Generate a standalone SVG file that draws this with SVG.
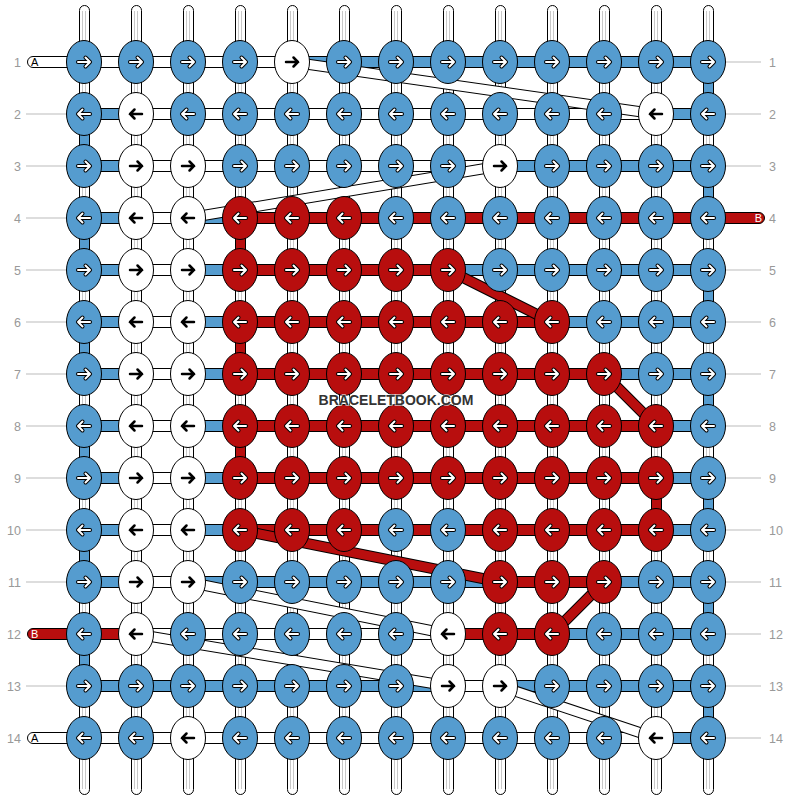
<svg xmlns="http://www.w3.org/2000/svg" xmlns:xlink="http://www.w3.org/1999/xlink" width="792" height="800" viewBox="0 0 792 800">
<style>
.wp{fill:#fff;stroke:#000;stroke-width:1}
.gl{fill:none;stroke:#c8c8c8;stroke-width:1}
.sw{fill:#fff;stroke:#000;stroke-width:1}
.sb{fill:#559ccf;stroke:#000;stroke-width:1}
.sr{fill:#b80e0e;stroke:#000;stroke-width:1}
.bo{fill:none;stroke:#000;stroke-width:11}
.bw{fill:none;stroke:#fff;stroke-width:9}
.brd{fill:none;stroke:#b80e0e;stroke-width:9}
.ao{fill:none;stroke:#000;stroke-width:4;stroke-linecap:round;stroke-linejoin:round}
.ai{fill:none;stroke:#fff;stroke-width:2;stroke-linecap:round;stroke-linejoin:round}
.ak{fill:none;stroke:#000;stroke-width:2.5;stroke-linecap:round;stroke-linejoin:miter}
.num{font-family:"Liberation Sans",Arial,sans-serif;font-size:12.5px;fill:#999}
.gline{stroke:#bbb;stroke-width:1;fill:none}
.end{font-family:"Liberation Sans",Arial,sans-serif;font-size:11px}
.wm{font-family:"Liberation Sans",Arial,sans-serif;font-size:14px;font-weight:bold;fill:#333;stroke:#fff;stroke-width:2;paint-order:stroke;stroke-opacity:0.6}
</style>
<defs>
<path id="pR" d="M-6,0H6M1.5,-4.5L6,0L1.5,4.5"/>
<path id="pL" d="M6,0H-6M-1.5,-4.5L-6,0L-1.5,4.5"/>
<g id="BR"><ellipse rx="17.5" ry="21.5" fill="#559ccf" stroke="#000"/><use href="#pR" class="ao"/><use href="#pR" class="ai"/></g>
<g id="BL"><ellipse rx="17.5" ry="21.5" fill="#559ccf" stroke="#000"/><use href="#pL" class="ao"/><use href="#pL" class="ai"/></g>
<g id="RR"><ellipse rx="17.5" ry="21.5" fill="#b80e0e" stroke="#000"/><use href="#pR" class="ao"/><use href="#pR" class="ai"/></g>
<g id="RL"><ellipse rx="17.5" ry="21.5" fill="#b80e0e" stroke="#000"/><use href="#pL" class="ao"/><use href="#pL" class="ai"/></g>
<g id="WR"><ellipse rx="17.5" ry="21.5" fill="#fff" stroke="#000"/><use href="#pR" class="ak"/></g>
<g id="WL"><ellipse rx="17.5" ry="21.5" fill="#fff" stroke="#000"/><use href="#pL" class="ak"/></g>
</defs>
<rect width="792" height="800" fill="#fff"/>
<g id="labels">
<path class="gline" d="M26,114H66M26,166H66M26,218H66M26,270H66M26,322H66M26,374H66M26,426H66M26,478H66M26,530H66M26,582H66M26,686H66"/>
<path class="gline" d="M726,62H761M726,114H761M726,166H761M726,270H761M726,322H761M726,374H761M726,426H761M726,478H761M726,530H761M726,582H761M726,634H761M726,686H761M726,738H761"/>
<g class="num" text-anchor="end">
<text x="21" y="66.5">1</text><text x="21" y="118.5">2</text><text x="21" y="170.5">3</text><text x="21" y="222.5">4</text><text x="21" y="274.5">5</text><text x="21" y="326.5">6</text><text x="21" y="378.5">7</text><text x="21" y="430.5">8</text><text x="21" y="482.5">9</text><text x="21" y="534.5">10</text><text x="21" y="586.5">11</text><text x="21" y="638.5">12</text><text x="21" y="690.5">13</text><text x="21" y="742.5">14</text>
</g>
<g class="num">
<text x="769" y="66.5">1</text><text x="769" y="118.5">2</text><text x="769" y="170.5">3</text><text x="769" y="222.5">4</text><text x="769" y="274.5">5</text><text x="769" y="326.5">6</text><text x="769" y="378.5">7</text><text x="769" y="430.5">8</text><text x="769" y="482.5">9</text><text x="769" y="534.5">10</text><text x="769" y="586.5">11</text><text x="769" y="638.5">12</text><text x="769" y="690.5">13</text><text x="769" y="742.5">14</text>
</g>
</g>
<g id="connectors">
<g id="warps">
<rect class="wp" x="79.5" y="5.5" width="10" height="789" rx="5"/>
<rect class="wp" x="131.5" y="5.5" width="10" height="789" rx="5"/>
<rect class="wp" x="183.5" y="5.5" width="10" height="789" rx="5"/>
<rect class="wp" x="235.5" y="5.5" width="10" height="789" rx="5"/>
<rect class="wp" x="287.5" y="5.5" width="10" height="789" rx="5"/>
<rect class="wp" x="339.5" y="5.5" width="10" height="789" rx="5"/>
<rect class="wp" x="391.5" y="5.5" width="10" height="789" rx="5"/>
<rect class="wp" x="443.5" y="5.5" width="10" height="789" rx="5"/>
<rect class="wp" x="495.5" y="5.5" width="10" height="789" rx="5"/>
<rect class="wp" x="547.5" y="5.5" width="10" height="789" rx="5"/>
<rect class="wp" x="599.5" y="5.5" width="10" height="789" rx="5"/>
<rect class="wp" x="651.5" y="5.5" width="10" height="789" rx="5"/>
<rect class="wp" x="703.5" y="5.5" width="10" height="789" rx="5"/>
<path class="gl" d="M82.5,11V789M85.5,11V789M134.5,11V789M137.5,11V789M186.5,11V789M189.5,11V789M238.5,11V789M241.5,11V789M290.5,11V789M293.5,11V789M342.5,11V789M345.5,11V789M394.5,11V789M397.5,11V789M446.5,11V789M449.5,11V789M498.5,11V789M501.5,11V789M550.5,11V789M553.5,11V789M602.5,11V789M605.5,11V789M654.5,11V789M657.5,11V789M706.5,11V789M709.5,11V789"/>
</g>
<g id="turns">
<path class="sb" d="M703.5,62V114h10V62zM703.5,166V218h10V166zM703.5,270V322h10V270zM703.5,374V426h10V374zM703.5,478V530h10V478zM703.5,582V634h10V582zM703.5,686V738h10V686zM79.5,114V166h10V114zM79.5,218V270h10V218zM79.5,322V374h10V322zM79.5,426V478h10V426zM79.5,530V582h10V530zM79.5,634V686h10V634z"/>
<path class="sr" d="M235.5,218V270h10V218zM235.5,322V374h10V322zM235.5,426V478h10V426zM651.5,478V530h10V478z"/>
</g>
<g id="wefts">
<rect class="sw" x="27.5" y="56.5" width="62" height="11" rx="5.5"/>
<rect class="sw" x="27.5" y="732.5" width="62" height="11" rx="5.5"/>
<rect class="sr" x="27.5" y="628.5" width="62" height="11" rx="5.5"/>
<rect class="sr" x="702.5" y="212.5" width="62" height="11" rx="5.5"/>
<path class="sw" d="M84,56.5H292v11H84zM136,108.5H656v11H136zM136,160.5H500v11H136zM136,212.5H188v11H136zM136,264.5H188v11H136zM136,316.5H188v11H136zM136,368.5H188v11H136zM136,420.5H188v11H136zM136,472.5H188v11H136zM136,524.5H188v11H136zM136,576.5H188v11H136zM136,628.5H448v11H136zM448,680.5H500v11H448zM84,732.5H656v11H84z"/>
<path class="sb" d="M292,56.5H708v11H292zM84,108.5H136v11H84zM656,108.5H708v11H656zM84,160.5H136v11H84zM500,160.5H708v11H500zM84,212.5H136v11H84zM188,212.5H240v11H188zM84,264.5H136v11H84zM188,264.5H240v11H188zM448,264.5H708v11H448zM84,316.5H136v11H84zM188,316.5H240v11H188zM552,316.5H708v11H552zM84,368.5H136v11H84zM188,368.5H240v11H188zM604,368.5H708v11H604zM84,420.5H136v11H84zM188,420.5H240v11H188zM656,420.5H708v11H656zM84,472.5H136v11H84zM188,472.5H240v11H188zM656,472.5H708v11H656zM84,524.5H136v11H84zM188,524.5H240v11H188zM656,524.5H708v11H656zM84,576.5H136v11H84zM188,576.5H500v11H188zM604,576.5H708v11H604zM552,628.5H708v11H552zM84,680.5H448v11H84zM500,680.5H708v11H500zM656,732.5H708v11H656z"/>
<path class="sr" d="M240,212.5H708v11H240zM240,264.5H448v11H240zM240,316.5H552v11H240zM240,368.5H604v11H240zM240,420.5H656v11H240zM240,472.5H656v11H240zM240,524.5H656v11H240zM500,576.5H604v11H500zM448,628.5H552v11H448zM84,628.5H136v11H84z"/>
</g>
<g id="diagonals">
<path class="bo" d="M292,62L656,114M500,166L188,218M188,582L448,634M136,634L448,686M500,686L656,738"/>
<path class="bw" d="M292,62L656,114M500,166L188,218M188,582L448,634M136,634L448,686M500,686L656,738"/>
<path class="bo" d="M448,270L552,322M604,374L656,426M240,530L500,582M604,582L552,634"/>
<path class="brd" d="M448,270L552,322M604,374L656,426M240,530L500,582M604,582L552,634"/>
</g>
<g class="end">
<text x="31" y="66">A</text>
<text x="31" y="742">A</text>
<text x="31" y="638" fill="#fff">B</text>
<text x="762" y="222" fill="#fff" text-anchor="end">B</text>
</g>
</g>
<g id="knots">
<g id="row1" transform="translate(0,62)">
<g id="k1-1"><use href="#BR" x="84"/></g><g id="k1-2"><use href="#BR" x="136"/></g><g id="k1-3"><use href="#BR" x="188"/></g><g id="k1-4"><use href="#BR" x="240"/></g><g id="k1-5"><use href="#WR" x="292"/></g><g id="k1-6"><use href="#BR" x="344"/></g><g id="k1-7"><use href="#BR" x="396"/></g><g id="k1-8"><use href="#BR" x="448"/></g><g id="k1-9"><use href="#BR" x="500"/></g><g id="k1-10"><use href="#BR" x="552"/></g><g id="k1-11"><use href="#BR" x="604"/></g><g id="k1-12"><use href="#BR" x="656"/></g><g id="k1-13"><use href="#BR" x="708"/></g>
</g>
<g id="row2" transform="translate(0,114)">
<g id="k2-1"><use href="#BL" x="84"/></g><g id="k2-2"><use href="#WL" x="136"/></g><g id="k2-3"><use href="#BL" x="188"/></g><g id="k2-4"><use href="#BL" x="240"/></g><g id="k2-5"><use href="#BL" x="292"/></g><g id="k2-6"><use href="#BL" x="344"/></g><g id="k2-7"><use href="#BL" x="396"/></g><g id="k2-8"><use href="#BL" x="448"/></g><g id="k2-9"><use href="#BL" x="500"/></g><g id="k2-10"><use href="#BL" x="552"/></g><g id="k2-11"><use href="#BL" x="604"/></g><g id="k2-12"><use href="#WL" x="656"/></g><g id="k2-13"><use href="#BL" x="708"/></g>
</g>
<g id="row3" transform="translate(0,166)">
<g id="k3-1"><use href="#BR" x="84"/></g><g id="k3-2"><use href="#WR" x="136"/></g><g id="k3-3"><use href="#WR" x="188"/></g><g id="k3-4"><use href="#BR" x="240"/></g><g id="k3-5"><use href="#BR" x="292"/></g><g id="k3-6"><use href="#BR" x="344"/></g><g id="k3-7"><use href="#BR" x="396"/></g><g id="k3-8"><use href="#BR" x="448"/></g><g id="k3-9"><use href="#WR" x="500"/></g><g id="k3-10"><use href="#BR" x="552"/></g><g id="k3-11"><use href="#BR" x="604"/></g><g id="k3-12"><use href="#BR" x="656"/></g><g id="k3-13"><use href="#BR" x="708"/></g>
</g>
<g id="row4" transform="translate(0,218)">
<g id="k4-1"><use href="#BL" x="84"/></g><g id="k4-2"><use href="#WL" x="136"/></g><g id="k4-3"><use href="#WL" x="188"/></g><g id="k4-4"><use href="#RL" x="240"/></g><g id="k4-5"><use href="#RL" x="292"/></g><g id="k4-6"><use href="#RL" x="344"/></g><g id="k4-7"><use href="#BL" x="396"/></g><g id="k4-8"><use href="#BL" x="448"/></g><g id="k4-9"><use href="#BL" x="500"/></g><g id="k4-10"><use href="#BL" x="552"/></g><g id="k4-11"><use href="#BL" x="604"/></g><g id="k4-12"><use href="#BL" x="656"/></g><g id="k4-13"><use href="#BL" x="708"/></g>
</g>
<g id="row5" transform="translate(0,270)">
<g id="k5-1"><use href="#BR" x="84"/></g><g id="k5-2"><use href="#WR" x="136"/></g><g id="k5-3"><use href="#WR" x="188"/></g><g id="k5-4"><use href="#RR" x="240"/></g><g id="k5-5"><use href="#RR" x="292"/></g><g id="k5-6"><use href="#RR" x="344"/></g><g id="k5-7"><use href="#RR" x="396"/></g><g id="k5-8"><use href="#RR" x="448"/></g><g id="k5-9"><use href="#BR" x="500"/></g><g id="k5-10"><use href="#BR" x="552"/></g><g id="k5-11"><use href="#BR" x="604"/></g><g id="k5-12"><use href="#BR" x="656"/></g><g id="k5-13"><use href="#BR" x="708"/></g>
</g>
<g id="row6" transform="translate(0,322)">
<g id="k6-1"><use href="#BL" x="84"/></g><g id="k6-2"><use href="#WL" x="136"/></g><g id="k6-3"><use href="#WL" x="188"/></g><g id="k6-4"><use href="#RL" x="240"/></g><g id="k6-5"><use href="#RL" x="292"/></g><g id="k6-6"><use href="#RL" x="344"/></g><g id="k6-7"><use href="#RL" x="396"/></g><g id="k6-8"><use href="#RL" x="448"/></g><g id="k6-9"><use href="#RL" x="500"/></g><g id="k6-10"><use href="#RL" x="552"/></g><g id="k6-11"><use href="#BL" x="604"/></g><g id="k6-12"><use href="#BL" x="656"/></g><g id="k6-13"><use href="#BL" x="708"/></g>
</g>
<g id="row7" transform="translate(0,374)">
<g id="k7-1"><use href="#BR" x="84"/></g><g id="k7-2"><use href="#WR" x="136"/></g><g id="k7-3"><use href="#WR" x="188"/></g><g id="k7-4"><use href="#RR" x="240"/></g><g id="k7-5"><use href="#RR" x="292"/></g><g id="k7-6"><use href="#RR" x="344"/></g><g id="k7-7"><use href="#RR" x="396"/></g><g id="k7-8"><use href="#RR" x="448"/></g><g id="k7-9"><use href="#RR" x="500"/></g><g id="k7-10"><use href="#RR" x="552"/></g><g id="k7-11"><use href="#RR" x="604"/></g><g id="k7-12"><use href="#BR" x="656"/></g><g id="k7-13"><use href="#BR" x="708"/></g>
</g>
<g id="row8" transform="translate(0,426)">
<g id="k8-1"><use href="#BL" x="84"/></g><g id="k8-2"><use href="#WL" x="136"/></g><g id="k8-3"><use href="#WL" x="188"/></g><g id="k8-4"><use href="#RL" x="240"/></g><g id="k8-5"><use href="#RL" x="292"/></g><g id="k8-6"><use href="#RL" x="344"/></g><g id="k8-7"><use href="#RL" x="396"/></g><g id="k8-8"><use href="#RL" x="448"/></g><g id="k8-9"><use href="#RL" x="500"/></g><g id="k8-10"><use href="#RL" x="552"/></g><g id="k8-11"><use href="#RL" x="604"/></g><g id="k8-12"><use href="#RL" x="656"/></g><g id="k8-13"><use href="#BL" x="708"/></g>
</g>
<g id="row9" transform="translate(0,478)">
<g id="k9-1"><use href="#BR" x="84"/></g><g id="k9-2"><use href="#WR" x="136"/></g><g id="k9-3"><use href="#WR" x="188"/></g><g id="k9-4"><use href="#RR" x="240"/></g><g id="k9-5"><use href="#RR" x="292"/></g><g id="k9-6"><use href="#RR" x="344"/></g><g id="k9-7"><use href="#RR" x="396"/></g><g id="k9-8"><use href="#RR" x="448"/></g><g id="k9-9"><use href="#RR" x="500"/></g><g id="k9-10"><use href="#RR" x="552"/></g><g id="k9-11"><use href="#RR" x="604"/></g><g id="k9-12"><use href="#RR" x="656"/></g><g id="k9-13"><use href="#BR" x="708"/></g>
</g>
<g id="row10" transform="translate(0,530)">
<g id="k10-1"><use href="#BL" x="84"/></g><g id="k10-2"><use href="#WL" x="136"/></g><g id="k10-3"><use href="#WL" x="188"/></g><g id="k10-4"><use href="#RL" x="240"/></g><g id="k10-5"><use href="#RL" x="292"/></g><g id="k10-6"><use href="#RL" x="344"/></g><g id="k10-7"><use href="#BL" x="396"/></g><g id="k10-8"><use href="#BL" x="448"/></g><g id="k10-9"><use href="#RL" x="500"/></g><g id="k10-10"><use href="#RL" x="552"/></g><g id="k10-11"><use href="#RL" x="604"/></g><g id="k10-12"><use href="#RL" x="656"/></g><g id="k10-13"><use href="#BL" x="708"/></g>
</g>
<g id="row11" transform="translate(0,582)">
<g id="k11-1"><use href="#BR" x="84"/></g><g id="k11-2"><use href="#WR" x="136"/></g><g id="k11-3"><use href="#WR" x="188"/></g><g id="k11-4"><use href="#BR" x="240"/></g><g id="k11-5"><use href="#BR" x="292"/></g><g id="k11-6"><use href="#BR" x="344"/></g><g id="k11-7"><use href="#BR" x="396"/></g><g id="k11-8"><use href="#BR" x="448"/></g><g id="k11-9"><use href="#RR" x="500"/></g><g id="k11-10"><use href="#RR" x="552"/></g><g id="k11-11"><use href="#RR" x="604"/></g><g id="k11-12"><use href="#BR" x="656"/></g><g id="k11-13"><use href="#BR" x="708"/></g>
</g>
<g id="row12" transform="translate(0,634)">
<g id="k12-1"><use href="#BL" x="84"/></g><g id="k12-2"><use href="#WL" x="136"/></g><g id="k12-3"><use href="#BL" x="188"/></g><g id="k12-4"><use href="#BL" x="240"/></g><g id="k12-5"><use href="#BL" x="292"/></g><g id="k12-6"><use href="#BL" x="344"/></g><g id="k12-7"><use href="#BL" x="396"/></g><g id="k12-8"><use href="#WL" x="448"/></g><g id="k12-9"><use href="#RL" x="500"/></g><g id="k12-10"><use href="#RL" x="552"/></g><g id="k12-11"><use href="#BL" x="604"/></g><g id="k12-12"><use href="#BL" x="656"/></g><g id="k12-13"><use href="#BL" x="708"/></g>
</g>
<g id="row13" transform="translate(0,686)">
<g id="k13-1"><use href="#BR" x="84"/></g><g id="k13-2"><use href="#BR" x="136"/></g><g id="k13-3"><use href="#BR" x="188"/></g><g id="k13-4"><use href="#BR" x="240"/></g><g id="k13-5"><use href="#BR" x="292"/></g><g id="k13-6"><use href="#BR" x="344"/></g><g id="k13-7"><use href="#BR" x="396"/></g><g id="k13-8"><use href="#WR" x="448"/></g><g id="k13-9"><use href="#WR" x="500"/></g><g id="k13-10"><use href="#BR" x="552"/></g><g id="k13-11"><use href="#BR" x="604"/></g><g id="k13-12"><use href="#BR" x="656"/></g><g id="k13-13"><use href="#BR" x="708"/></g>
</g>
<g id="row14" transform="translate(0,738)">
<g id="k14-1"><use href="#BL" x="84"/></g><g id="k14-2"><use href="#BL" x="136"/></g><g id="k14-3"><use href="#WL" x="188"/></g><g id="k14-4"><use href="#BL" x="240"/></g><g id="k14-5"><use href="#BL" x="292"/></g><g id="k14-6"><use href="#BL" x="344"/></g><g id="k14-7"><use href="#BL" x="396"/></g><g id="k14-8"><use href="#BL" x="448"/></g><g id="k14-9"><use href="#BL" x="500"/></g><g id="k14-10"><use href="#BL" x="552"/></g><g id="k14-11"><use href="#BL" x="604"/></g><g id="k14-12"><use href="#WL" x="656"/></g><g id="k14-13"><use href="#BL" x="708"/></g>
</g>
</g>
<text class="wm" x="396" y="405" text-anchor="middle">BRACELETBOOK.COM</text>
</svg>
